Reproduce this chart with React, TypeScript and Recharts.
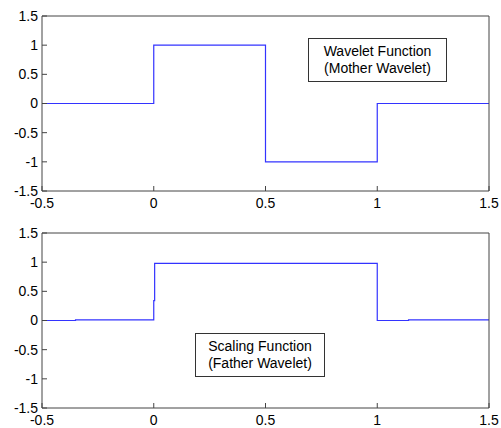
import { LineChart, Line, XAxis, YAxis } from "recharts";

const X_TICKS = [-0.5, 0, 0.5, 1, 1.5];
const Y_TICKS = [-1.5, -1, -0.5, 0, 0.5, 1, 1.5];

// Haar wavelet (mother)
const motherX = [-0.5, 0, 0, 0.5, 0.5, 1, 1, 1.5];
const motherY = [0, 0, 1, 1, -1, -1, 0, 0];

// scaling function (father), numerically approximated
const fatherX = [-0.5, -0.35, -0.35, 0, 0, 0.004, 0.004, 1, 1, 1.14, 1.14, 1.5];
const fatherY = [0, 0, 0.01, 0.01, 0.34, 0.34, 0.98, 0.98, 0, 0, 0.01, 0.01];

const FONT = "'Liberation Sans', Arial, sans-serif";
const AXIS = "#444";
const BLUE = "#3333ff";

const toRows = (xs: number[], ys: number[]) => xs.map((x, i) => ({ x, y: ys[i] }));

function Panel({ data, top, xHeight }: { data: { x: number; y: number }[]; top: number; xHeight: number }) {
  const tick = { fill: "#000", fontSize: 14, fontFamily: FONT };
  return (
    <LineChart width={501} height={214} data={data} margin={{ top: top - 1, right: 11, left: 0, bottom: 0 }}>
      <XAxis dataKey="x" type="number" domain={[-0.5, 1.5]} ticks={X_TICKS} interval={0}
        allowDataOverflow tickSize={-5} tickMargin={12} height={xHeight} stroke={AXIS} tick={tick} />
      {/* top + right axes only draw the box with inward ticks */}
      <XAxis xAxisId="top" dataKey="x" orientation="top" type="number" domain={[-0.5, 1.5]} ticks={X_TICKS}
        interval={0} allowDataOverflow tickSize={-5} height={1} stroke={AXIS} tick={false} />
      <YAxis type="number" domain={[-1.5, 1.5]} ticks={Y_TICKS} interval={0} allowDataOverflow
        tickSize={-5} tickMargin={9} width={42} stroke={AXIS} tick={tick} />
      <YAxis yAxisId="right" orientation="right" type="number" domain={[-1.5, 1.5]} ticks={Y_TICKS}
        interval={0} allowDataOverflow tickSize={-5} width={1} stroke={AXIS} tick={false} />
      <Line dataKey="y" type="linear" stroke={BLUE} strokeWidth={1.2} dot={false} isAnimationActive={false} />
    </LineChart>
  );
}

function NoteBox({ left, top, width, lines }: { left: number; top: number; width: number; lines: string[] }) {
  return (
    <div style={{
      position: "absolute", left, top, width, height: 44, boxSizing: "border-box",
      border: "1px solid #333", background: "#fff", display: "flex", flexDirection: "column",
      justifyContent: "center", alignItems: "center", fontFamily: FONT, fontSize: 14, lineHeight: "17px", color: "#000",
    }}>
      {lines.map((l) => <div key={l}>{l}</div>)}
    </div>
  );
}

export default function App() {
  return (
    <div style={{ position: "absolute", left: 0, top: 0, width: 501, height: 428, background: "#fff" }}>
      <Panel data={toRows(motherX, motherY)} top={16} xHeight={23} />
      <Panel data={toRows(fatherX, fatherY)} top={19} xHeight={20} />
      <NoteBox left={308} top={38} width={139} lines={["Wavelet Function", "(Mother Wavelet)"]} />
      <NoteBox left={195} top={333} width={130} lines={["Scaling Function", "(Father Wavelet)"]} />
    </div>
  );
}
